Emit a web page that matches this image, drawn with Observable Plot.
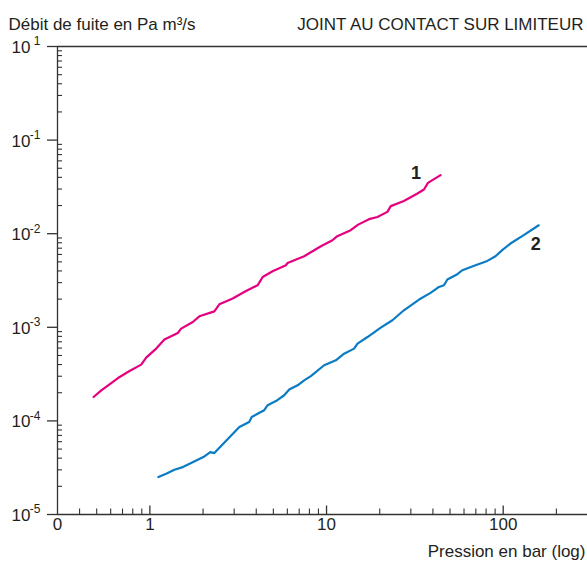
<!DOCTYPE html>
<html>
<head>
<meta charset="utf-8">
<script src="https://cdn.jsdelivr.net/npm/d3@7"></script>
<script src="https://cdn.jsdelivr.net/npm/@observablehq/plot@0.6"></script>
<style>
  html, body { margin: 0; padding: 0; background: #fff; }
  svg { display: block; }
</style>
</head>
<body>
<div id="chart"></div>
<script>
// Curve 1 (magenta): pressure in bar, leak rate in Pa m3/s
const pressure1 = [0.48, 0.531, 0.591, 0.66, 0.767, 0.893, 0.953, 1.086, 1.209, 1.439, 1.503, 1.75, 1.906, 2.317, 2.473, 2.943, 3.5, 4.07, 4.35, 4.95, 5.89, 6.02, 7.47, 9.29, 10.8, 11.5, 13.7, 15.1, 17.4, 19.4, 22.1, 23.1, 27.4, 32.7, 35.6, 37.5, 44.2];
const flow1 = [1.80e-4, 2.12e-4, 2.46e-4, 2.87e-4, 3.41e-4, 3.99e-4, 4.74e-4, 5.92e-4, 7.39e-4, 8.69e-4, 9.68e-4, 1.14e-3, 1.31e-3, 1.48e-3, 1.76e-3, 2.03e-3, 2.44e-3, 2.81e-3, 3.45e-3, 3.97e-3, 4.60e-3, 4.87e-3, 5.74e-3, 7.35e-3, 8.51e-3, 9.40e-3, 1.09e-2, 1.25e-2, 1.43e-2, 1.51e-2, 1.71e-2, 1.97e-2, 2.24e-2, 2.69e-2, 2.97e-2, 3.49e-2, 4.22e-2];

// Curve 2 (blue)
const pressure2 = [1.118, 1.236, 1.377, 1.536, 1.712, 2.035, 2.199, 2.317, 3.21, 3.65, 3.77, 4.07, 4.44, 4.64, 5.17, 5.76, 6.15, 6.86, 7.47, 8.15, 9.69, 11.29, 12.57, 14.32, 14.97, 17.05, 20.27, 23.6, 27.4, 33.4, 38.8, 43.3, 46.2, 48.3, 55.0, 58.7, 69.7, 81.3, 90.4, 98.7, 109.9, 130.7, 158.9];
const flow2 = [2.51e-5, 2.72e-5, 3.01e-5, 3.21e-5, 3.54e-5, 4.17e-5, 4.64e-5, 4.53e-5, 8.59e-5, 9.71e-5, 1.10e-4, 1.19e-4, 1.30e-4, 1.47e-4, 1.63e-4, 1.88e-4, 2.16e-4, 2.40e-4, 2.71e-4, 3.01e-4, 3.93e-4, 4.44e-4, 5.23e-4, 5.92e-4, 6.70e-4, 7.87e-4, 9.93e-4, 1.19e-3, 1.52e-3, 1.98e-3, 2.33e-3, 2.70e-3, 2.81e-3, 3.24e-3, 3.69e-3, 4.07e-3, 4.60e-3, 5.12e-3, 5.74e-3, 6.67e-3, 7.85e-3, 9.64e-3, 1.23e-2];

const seriesNames = ["1", "2"];

// Tick values and labels
const xMajorTicks = [0.3, 1, 10, 100];
const xTickLabels = ["0", "1", "10", "100"];
const xMinorTicks = [0.4, 0.5, 0.6, 0.7, 0.8, 0.9, 2, 3, 4, 5, 6, 7, 8, 9, 20, 30, 40, 50, 60, 70, 80, 90, 200];
const yMajorTicks = [1, 1e-1, 1e-2, 1e-3, 1e-4, 1e-5];
const yTickExponents = ["1", "-1", "-2", "-3", "-4", "-5"];
const yMinorTicks = [];
for (const dec of [1e-5, 1e-4, 1e-3, 1e-2, 1e-1]) for (const m of [2,3,4,5,6,7,8,9]) yMinorTicks.push(m * dec);

const yTitle = "Débit de fuite en Pa m³/s";
const chartTitle = "JOINT AU CONTACT SUR LIMITEUR";
const xTitle = "Pression en bar (log)";

const data1 = pressure1.map((p, i) => ({p, q: flow1[i]}));
const data2 = pressure2.map((p, i) => ({p, q: flow2[i]}));

const W = 587, H = 566, mT = 46, mL = 57, mR = 0, mB = 52;
const fw = W - mL - mR, fh = H - mT - mB;
const ink = "#231f20";
const axisColor = "#333";
const fs = 17;

const chart = Plot.plot({
  width: W, height: H,
  marginTop: mT, marginLeft: mL, marginRight: mR, marginBottom: mB,
  x: {type: "log", domain: [0.3, 300], axis: null},
  y: {type: "log", domain: [1e-5, 1], axis: null},
  style: {fontFamily: "'Liberation Sans', Arial, Helvetica, sans-serif", fontSize: fs + "px", background: "#fff", color: ink},
  marks: [
    // frame lines
    Plot.ruleY([1e-5], {stroke: axisColor, strokeWidth: 1.3}),
    Plot.ruleY([1], {stroke: axisColor, strokeWidth: 1.3}),
    Plot.ruleX([0.3], {stroke: axisColor, strokeWidth: 1.3}),
    // x ticks (pointing up)
    Plot.ruleX(xMinorTicks, {insetTop: fh - 5.5, stroke: axisColor, strokeWidth: 1.1}),
    Plot.ruleX(xMajorTicks.slice(1), {insetTop: fh - 8.5, stroke: axisColor, strokeWidth: 1.3}),
    // y minor ticks (pointing right)
    Plot.ruleY(yMinorTicks, {insetRight: fw - 5, stroke: axisColor, strokeWidth: 1.1}),
    // y major ticks (pointing left)
    Plot.axisY({ticks: yMajorTicks, tickSize: 10, tickFormat: () => "", label: null, stroke: axisColor, strokeWidth: 1.3}),
    // x tick labels
    Plot.text(xMajorTicks, {x: d => d, frameAnchor: "bottom", text: (d, i) => xTickLabels[i], lineAnchor: "top", dy: 3, fill: ink, fontSize: fs}),
    // y tick labels: base and exponent
    Plot.text(yMajorTicks, {y: d => d, frameAnchor: "left", text: () => "10", textAnchor: "end", dx: -27, dy: 1, fill: ink, fontSize: fs}),
    Plot.text(yMajorTicks, {y: d => d, frameAnchor: "left", text: (d, i) => yTickExponents[i], textAnchor: "end", dx: -17, dy: -5, fill: ink, fontSize: 12}),
    // curves
    Plot.line(data1, {x: "p", y: "q", stroke: "#e4007f", strokeWidth: 2.2}),
    Plot.line(data2, {x: "p", y: "q", stroke: "#0a7bc4", strokeWidth: 2.2}),
    // curve labels
    Plot.text([data1[data1.length - 1]], {x: "p", y: "q", text: () => seriesNames[0], fontWeight: "bold", fontSize: 18, fill: ink, dx: -24.5, dy: -1.5}),
    Plot.text([data2[data2.length - 1]], {x: "p", y: "q", text: () => seriesNames[1], fontWeight: "bold", fontSize: 18, fill: ink, dx: -3, dy: 18.5}),
    // titles
    Plot.text([yTitle], {frameAnchor: "top-left", text: d => d, textAnchor: "start", dx: 8 - mL, dy: 17 - mT, fill: ink, fontSize: fs}),
    Plot.text([chartTitle], {frameAnchor: "top-right", text: d => d, textAnchor: "end", dx: -4, dy: 17 - mT, fill: ink, fontSize: fs}),
    Plot.text([xTitle], {frameAnchor: "bottom-right", text: d => d, textAnchor: "end", dx: -2, dy: 556 - (H - mB), fill: ink, fontSize: fs})
  ]
});
document.getElementById("chart").appendChild(chart);
</script>
</body>
</html>
